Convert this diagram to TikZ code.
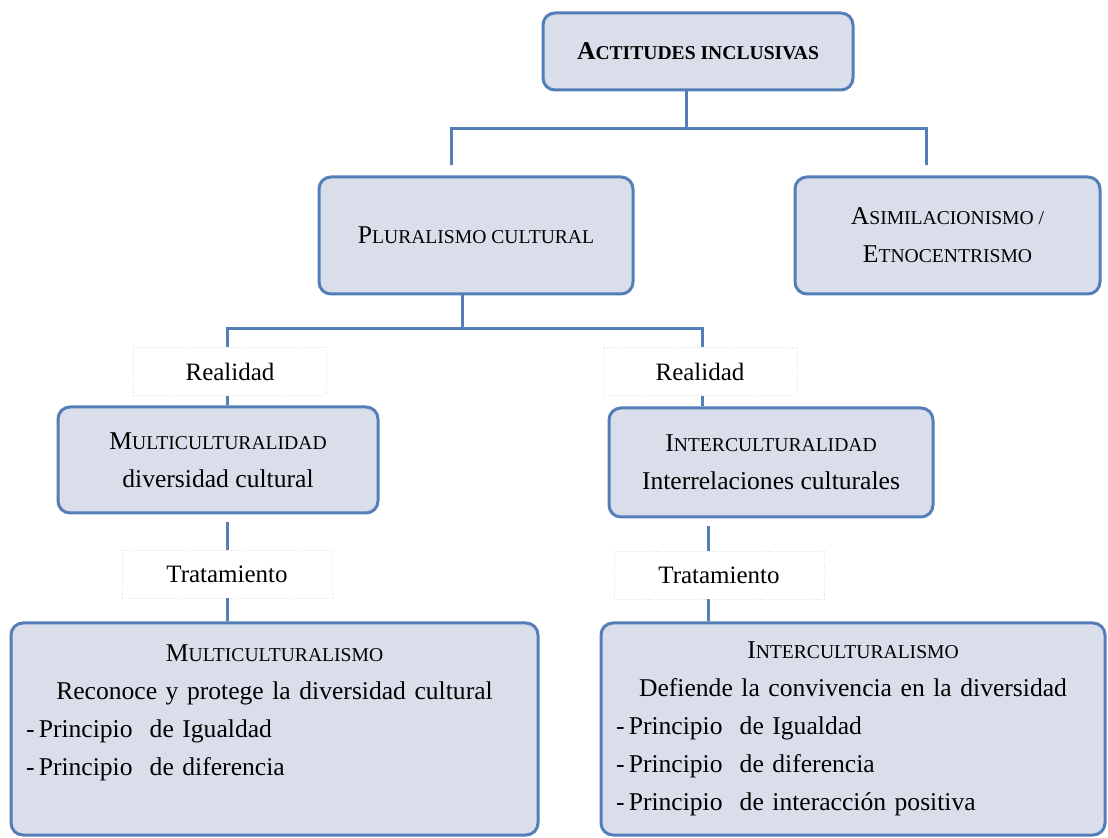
\documentclass[tikz,border=0pt]{standalone}
\usepackage{fontspec}
\setmainfont{Liberation Serif}
\definecolor{boxblue}{RGB}{84,126,184}
\definecolor{boxfill}{RGB}{217,222,234}
\def\scap#1#2{#1{\fontsize{9.8}{18}\selectfont #2}}
\tikzset{
	topic/.style={draw=boxblue, line width=1.5pt, fill=boxfill, rounded corners=6pt, inner sep=2pt, align=center, font=\fontsize{12.8}{19}\selectfont},
	tag/.style={draw=black!12, densely dotted, fill=white, line width=0.4pt, minimum height=24pt, font=\fontsize{12.5}{15}\selectfont},
	link/.style={draw=boxblue, line width=1.5pt},
}

\begin{document}
\begin{tikzpicture}[x=0.5pt, y=-0.5pt]
			%%%%% START %%%%%
			\useasboundingbox (0, 0) rectangle (1108, 838);
			
			\node[topic, minimum width=155pt, minimum height=38.5pt, font=\fontsize{12.8}{19}\selectfont\bfseries] (actitudes) at (698, 51.5) {\scap{A}{CTITUDES INCLUSIVAS}};
			
			\node[topic, minimum width=157pt, minimum height=58.5pt] (plural) at (476, 235.5) {\scap{P}{LURALISMO CULTURAL}};
			\node[topic, minimum width=152.5pt, minimum height=58.5pt] (asim) at (947.5, 235.5) {\scap{A}{SIMILACIONISMO /}\\\scap{E}{TNOCENTRISMO}};
			
			\node[tag, minimum width=96.5pt] (realL) at (230, 371.5) {Realidad};
			\node[tag, minimum width=97pt] (realR) at (700, 371.5) {Realidad};
			
			\node[topic, minimum width=160pt, minimum height=53pt] (multi) at (218, 460) {\scap{M}{ULTICULTURALIDAD}\\diversidad cultural};
			\node[topic, minimum width=162pt, minimum height=54.5pt] (inter) at (771, 462.5) {\scap{I}{NTERCULTURALIDAD}\\Interrelaciones culturales};
			
			\node[tag, minimum width=105pt] (tratL) at (227, 574) {Tratamiento};
			\node[tag, minimum width=105pt] (tratR) at (719, 575) {Tratamiento};
			
			\node[topic, text width=248.5pt, inner xsep=7.5pt, minimum height=106pt, align=left] (multismo) at (274.5, 729) {\centering\scap{M}{ULTICULTURALISMO}\\Reconoce y protege la diversidad cultural\par\raggedright -\,Principio\ \ de Igualdad\\-\,Principio\ \ de diferencia\\\mbox{}};
			\node[topic, text width=237pt, inner xsep=7.5pt, minimum height=106pt, align=left] (interismo) at (853, 729) {\centering\scap{I}{NTERCULTURALISMO}\\Defiende la convivencia en la diversidad\par\raggedright -\,Principio\ \ de Igualdad\\-\,Principio\ \ de diferencia\\-\,Principio\ \ de interacción positiva};
			
			\coordinate (hubA) at (686, 129);
			\coordinate (topL) at (451, 129);
			\coordinate (topR) at (926, 129);
			\coordinate (hubB) at (462, 329);
			\coordinate (midL) at (227, 329);
			\coordinate (midR) at (702, 329);
			\coordinate (lowR) at (708, 540);
			
			\draw[link] (actitudes.south -| hubA) -- (hubA);
			\draw[link, shorten <=5pt, shorten >=5pt] (plural.north -| topL) -- (topL) -- (topR) -- (asim.north -| topR);
			\draw[link] (plural.south -| hubB) -- (hubB);
			\draw[link] (realL.north -| midL) -- (midL) -- (midR) -- (realR.north -| midR);
			\draw[link] (realL.south -| midL) -- (multi.north -| midL);
			\draw[link] (realR.south -| midR) -- (inter.north -| midR);
			\draw[link, shorten <=4pt] (multi.south -| midL) -- (tratL.north -| midL);
			\draw[link] (tratL.south -| midL) -- (multismo.north -| midL);
			\draw[link, shorten <=4pt] (inter.south -| lowR) -- (tratR.north -| lowR);
			\draw[link] (tratR.south -| lowR) -- (interismo.north -| lowR);
			
			%%%%% END %%%%%
\end{tikzpicture}
\end{document}
